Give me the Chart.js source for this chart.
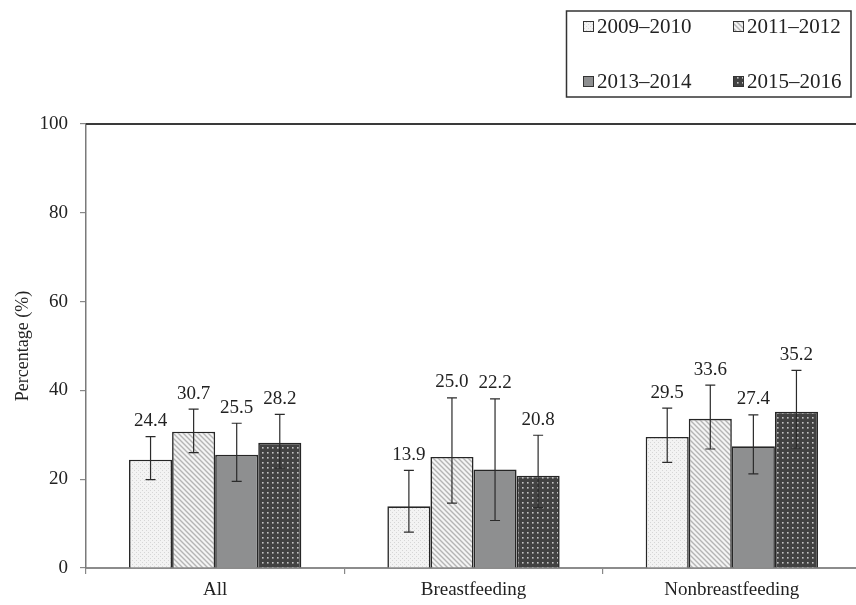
<!DOCTYPE html>
<html>
<head>
<meta charset="utf-8">
<script src="https://cdn.jsdelivr.net/npm/chart.js@4.4.1/dist/chart.umd.min.js"></script>
<style>
  html, body { margin: 0; padding: 0; background: #fff; overflow: hidden; }
  #wrap { width: 870px; height: 605px; }
</style>
</head>
<body>
<div id="wrap"><canvas id="chart" width="870" height="605"></canvas></div>
<script>
// categories and series (percent), error bar ends
const categories = ['All', 'Breastfeeding', 'Nonbreastfeeding'];
const periods = ['2009–2010', '2011–2012', '2013–2014', '2015–2016'];

const v0910 = [24.4, 13.9, 29.5];
const lo0910 = [19.9, 8.1, 23.8];
const hi0910 = [29.6, 22.0, 36.0];

const v1112 = [30.7, 25.0, 33.6];
const lo1112 = [26.0, 14.6, 26.8];
const hi1112 = [35.8, 38.3, 41.2];

const v1314 = [25.5, 22.2, 27.4];
const lo1314 = [19.5, 10.7, 21.2];
const hi1314 = [32.6, 38.1, 34.5];

const v1516 = [28.2, 20.8, 35.2];
const lo1516 = [22.5, 13.6, 27.0];
const hi1516 = [34.6, 29.9, 44.5];

const yTicks = [0, 20, 40, 60, 80, 100];

const serif = '"Liberation Serif", "Times New Roman", serif';
const ctx = document.getElementById('chart').getContext('2d');

// fill patterns for the four bars
function tile(size, paint) {
    const c = document.createElement('canvas');
    c.width = size; c.height = size;
    const g = c.getContext('2d');
    paint(g, size);
    return ctx.createPattern(c, 'repeat');
}

const patDots = tile(4, (g, s) => {
    g.fillStyle = '#f3f3f3'; g.fillRect(0, 0, s, s);
    g.fillStyle = '#d6d6d6';
    g.fillRect(0, 0, 1, 1); g.fillRect(2, 2, 1, 1);
});
const patStripe = tile(5, (g, s) => {
    g.fillStyle = '#f4f4f4'; g.fillRect(0, 0, s, s);
    g.strokeStyle = '#b4b4b4'; g.lineWidth = 1.4;
    g.beginPath();
    g.moveTo(-1, -1); g.lineTo(s + 1, s + 1);
    g.moveTo(-1, s - 1); g.lineTo(1, s + 1);
    g.moveTo(s - 1, -1); g.lineTo(s + 1, 1);
    g.stroke();
});
const solidGrey = '#8e8f90';
const patDark = tile(5, (g, s) => {
    g.fillStyle = '#424242'; g.fillRect(0, 0, s, s);
    g.fillStyle = '#c4c4c4';
    g.fillRect(2, 2, 1.6, 1.6);
});

const fills = [patDots, patStripe, solidGrey, patDark];
const seriesVals = [v0910, v1112, v1314, v1516];
const seriesLo = [lo0910, lo1112, lo1314, lo1516];
const seriesHi = [hi0910, hi1112, hi1314, hi1516];

const datasets = periods.map((p, i) => ({
    label: p,
    data: seriesVals[i],
    errLo: seriesLo[i],
    errHi: seriesHi[i],
    backgroundColor: fills[i],
    borderColor: '#262626',
    borderWidth: 1.6,
    categoryPercentage: 0.667,
    barPercentage: 1.0
}));

// error bars + value labels
const errorBars = {
    id: 'errorBars',
    afterDatasetsDraw(chart) {
        const y = chart.scales.y;
        const g = chart.ctx;
        g.save();
        chart.data.datasets.forEach((ds, di) => {
            const meta = chart.getDatasetMeta(di);
            meta.data.forEach((bar, j) => {
                const top = y.getPixelForValue(ds.errHi[j]);
                const bot = y.getPixelForValue(ds.errLo[j]);
                g.strokeStyle = '#2b2b2b';
                g.lineWidth = 1.2;
                g.beginPath();
                g.moveTo(bar.x, top); g.lineTo(bar.x, bot);
                g.moveTo(bar.x - 5, top); g.lineTo(bar.x + 5, top);
                g.moveTo(bar.x - 5, bot); g.lineTo(bar.x + 5, bot);
                g.stroke();
                g.fillStyle = '#222';
                g.font = '19px ' + serif;
                g.textAlign = 'center';
                g.textBaseline = 'bottom';
                g.fillText(ds.data[j].toFixed(1), bar.x, top - 6);
            });
        });
        g.restore();
    }
};

// top border of the plot frame
const frameTop = {
    id: 'frameTop',
    afterDraw(chart) {
        const a = chart.chartArea;
        const g = chart.ctx;
        g.save();
        g.strokeStyle = '#3a3a3a';
        g.lineWidth = 2;
        g.beginPath();
        g.moveTo(a.left, a.top); g.lineTo(a.right + 2, a.top);
        g.stroke();
        g.restore();
    }
};

// boxed legend in the top right corner, 2 x 2
const boxLegend = {
    id: 'boxLegend',
    afterDraw(chart) {
        const g = chart.ctx;
        g.save();
        g.strokeStyle = '#333';
        g.lineWidth = 1.5;
        g.strokeRect(566.5, 11, 284.5, 86);
        g.font = '21px ' + serif;
        g.textBaseline = 'middle';
        g.textAlign = 'left';
        chart.data.datasets.forEach((ds, i) => {
            const col = i % 2, row = Math.floor(i / 2);
            const sx = 583 + col * 150;
            const sy = row === 0 ? 26 : 81;
            g.fillStyle = ds.backgroundColor;
            g.fillRect(sx, sy - 5, 10, 10);
            g.strokeStyle = '#333';
            g.lineWidth = 1;
            g.strokeRect(sx + 0.5, sy - 4.5, 10, 10);
            g.fillStyle = '#222';
            g.fillText(ds.label, sx + 14, sy + 1);
        });
        g.restore();
    }
};

new Chart(ctx, {
    type: 'bar',
    data: { labels: categories, datasets: datasets },
    options: {
        responsive: false,
        animation: false,
        layout: { padding: { top: 124, right: 9, left: 0, bottom: 0 } },
        plugins: {
            legend: { display: false },
            tooltip: { enabled: false }
        },
        scales: {
            x: {
                grid: { drawOnChartArea: false, tickLength: 6, color: '#888', lineWidth: 1.2 },
                border: { color: '#8c8c8c', width: 2 },
                ticks: { font: { family: serif, size: 19 }, color: '#222', padding: 5 },
                afterFit: s => { s.height = 37; }
            },
            y: {
                min: 0,
                max: 100,
                afterBuildTicks: s => { s.ticks = yTicks.map(v => ({ value: v })); },
                grid: { drawOnChartArea: false, tickLength: 6, color: '#888', lineWidth: 1.2 },
                border: { color: '#7a7a7a', width: 1.5 },
                ticks: { font: { family: serif, size: 19 }, color: '#222', padding: 12 },
                title: {
                    display: true,
                    text: 'Percentage (%)',
                    font: { family: serif, size: 18 },
                    color: '#222',
                    padding: { top: 12, bottom: 0 }
                },
                afterFit: s => { s.width = 86; }
            }
        }
    },
    plugins: [errorBars, frameTop, boxLegend]
});
</script>
</body>
</html>
